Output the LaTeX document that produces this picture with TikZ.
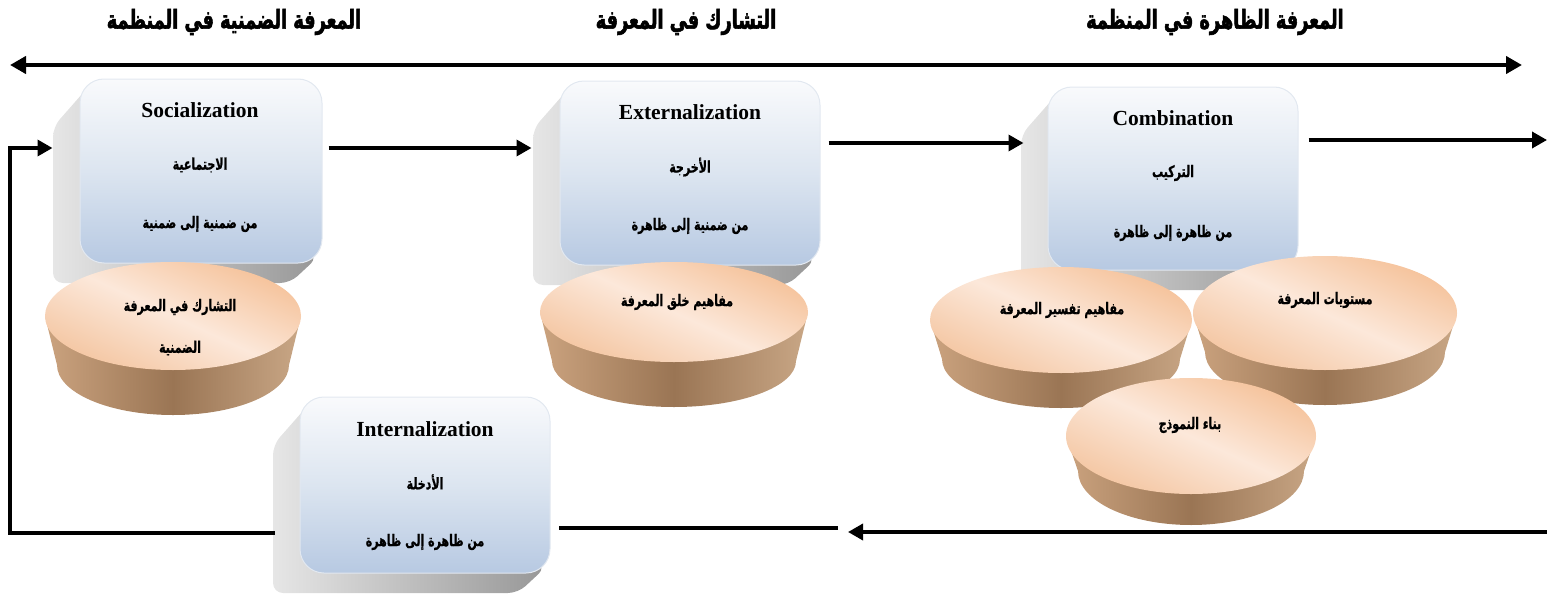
\documentclass[tikz,border=0pt]{standalone}
\usepackage{fontspec}
\setmainfont{Liberation Serif}
\newfontfamily\arabicfont[Script=Arabic, FakeStretch=0.69, BoldFeatures={FakeBold=0.8}]{DejaVu Sans}
\newfontfamily\arheadfont[Script=Arabic, FakeStretch=0.68, BoldFeatures={FakeBold=2}]{DejaVu Sans}
\TeXXeTstate=1
\usetikzlibrary{arrows.meta}

\definecolor{boxtop}{HTML}{F9FAFC}
\definecolor{boxmid}{HTML}{DCE5F0}
\definecolor{boxbot}{HTML}{B7C9E2}
\definecolor{boxedge}{HTML}{E2E8F0}
\definecolor{shadowL}{HTML}{E6E6E6}
\definecolor{shadowR}{HTML}{979797}
\definecolor{peachT}{HTML}{F5C29A}
\definecolor{peachL}{HTML}{FCE8DA}
\definecolor{peachB}{HTML}{F4C6A2}
\definecolor{sideL}{HTML}{CBA37F}
\definecolor{sideM}{HTML}{9A7554}
\definecolor{sideR}{HTML}{C9A786}

% Arabic text, right to left
\newcommand\artxt[1]{{\arabicfont\bfseries\beginR #1\endR}}
\newcommand\arhead[1]{{\arheadfont\bfseries\beginR #1\endR}}

% gray bevel behind a card: x1 y1 x2 y2 of the card (y downwards)
\newcommand\kshadow[4]{%
  \shade[left color=shadowL, right color=shadowR, rounded corners=10pt]
    ({#1+10},{-#2-6}) -- ({#1-27},{-#2-48}) -- ({#1-27},{-#4-20})
    -- ({#3-32},{-#4-20}) -- ({#3-4},{-#4+6}) -- cycle;}

% flat disc: cx cy rx ry (top face), cyb rxb ryb (lower rim)
\newcommand\kdisc[7]{%
  \shade[left color=sideL, right color=sideR, middle color=sideM]
    ({#1-#3},{-#2}) -- ({#1-#6},{-#5})
    arc[start angle=180, end angle=360, x radius=#6pt, y radius=#7pt]
    -- ({#1+#3},{-#2}) -- cycle;
  \shade[top color=peachT, bottom color=peachB, middle color=peachL, shading angle=-25]
    (#1,{-#2}) ellipse [x radius=#3pt, y radius=#4pt];}

\tikzset{
  card/.style={rectangle, rounded corners=24pt, draw=boxedge, line width=1pt,
    top color=boxtop, bottom color=boxbot, middle color=boxmid, inner sep=0pt},
  entitle/.style={font=\bfseries\fontsize{21.5}{24}\selectfont, inner sep=0pt},
  artext/.style={font=\fontsize{16}{19}\selectfont, inner sep=0pt},
  headtitle/.style={font=\fontsize{26}{30}\selectfont, inner sep=0pt},
  flow/.style={line width=3.5pt, -{Triangle[length=15pt,width=16pt]}},
  plainline/.style={line width=3.5pt},
  axis/.style={line width=4.5pt, {Triangle[length=16pt,width=17pt]}-{Triangle[length=16pt,width=17pt]}}
}

\begin{document}
\begin{tikzpicture}[x=1pt,y=1pt]
\useasboundingbox (0,0) rectangle (1547,-594);

% headings and the axis below them
\node[headtitle] (h1) at (234,-22) {\arhead{المعرفة الضمنية في المنظمة}};
\node[headtitle] (h2) at (686,-22) {\arhead{التشارك في المعرفة}};
\node[headtitle] (h3) at (1215,-22) {\arhead{المعرفة الظاهرة في المنظمة}};
\coordinate (axl) at (10,-65);
\coordinate (axr) at (1522,-65);
\draw[axis] (axl) -- (axr);

% the four cards with their bevels
\kshadow{80}{79}{322}{263}
\node[card, minimum width=242pt, minimum height=184pt] (soc) at (201,-171) {};
\kshadow{560}{81}{820}{265}
\node[card, minimum width=260pt, minimum height=184pt] (ext) at (690,-173) {};
\kshadow{1048}{87}{1298}{270}
\node[card, minimum width=250pt, minimum height=183pt] (comb) at (1173,-178.5) {};
\kshadow{300}{397}{550}{573}
\node[card, minimum width=250pt, minimum height=176pt] (int) at (425,-485) {};

\node[entitle] (soc-t) at (200,-110) {Socialization};
\node[artext] (soc-a) at (200,-165) {\artxt{الاجتماعية}};
\node[artext] (soc-b) at (200,-224) {\artxt{من ضمنية إلى ضمنية}};

\node[entitle] (ext-t) at (690,-112) {Externalization};
\node[artext] (ext-a) at (690,-167) {\artxt{الأخرجة}};
\node[artext] (ext-b) at (690,-226) {\artxt{من ضمنية إلى ظاهرة}};

\node[entitle] (comb-t) at (1173,-118) {Combination};
\node[artext] (comb-a) at (1173,-173) {\artxt{التركيب}};
\node[artext] (comb-b) at (1173,-233) {\artxt{من ظاهرة إلى ظاهرة}};

\node[entitle] (int-t) at (425,-429) {Internalization};
\node[artext] (int-a) at (425,-482) {\artxt{الأدخلة}};
\node[artext] (int-b) at (425,-542) {\artxt{من ظاهرة إلى ظاهرة}};

% discs
\kdisc{173}{316}{128}{54}{365}{116}{50}
\node[artext] (d1a) at (180,-307) {\artxt{التشارك في المعرفة}};
\node[artext] (d1b) at (180,-348) {\artxt{الضمنية}};

\kdisc{674}{312}{134}{50}{361}{122}{46}
\node[artext] (d2) at (677,-302) {\artxt{مفاهيم خلق المعرفة}};

\kdisc{1325}{313}{132}{57}{352}{120}{53}
\node[artext] (d4) at (1325,-300) {\artxt{مستويات المعرفة}};

\kdisc{1061}{320}{131}{53}{359}{119}{49}
\node[artext] (d3) at (1062,-310) {\artxt{مفاهيم تفسير المعرفة}};

\kdisc{1191}{436}{125}{58}{471}{113}{54}
\node[artext] (d5) at (1190,-425) {\artxt{بناء النموذج}};

% flow between the cards
\draw[flow] ([xshift=6pt,yshift=23pt]soc.east) -- ([xshift=-28pt,yshift=25pt]ext.west);
\draw[flow] ([xshift=8pt,yshift=30pt]ext.east) -- ([xshift=-24pt,yshift=35.5pt]comb.west);
\coordinate (outr) at (1547,-140);
\draw[flow] ([xshift=10pt,yshift=38.5pt]comb.east) -- (outr);

\coordinate (inr) at (1547,-532);
\coordinate (gap) at (848,-532);
\draw[flow] (inr) -- (gap);
\draw[plainline] ([xshift=-10pt,yshift=4pt]gap) -- ([xshift=8pt,yshift=-43pt]int.east);

\coordinate (loop) at (10,-340);
\draw[flow, line join=miter] ([xshift=-25pt,yshift=-48pt]int.west) -| (loop)
  |- ([xshift=-27pt,yshift=23pt]soc.west);
\end{tikzpicture}
\end{document}
